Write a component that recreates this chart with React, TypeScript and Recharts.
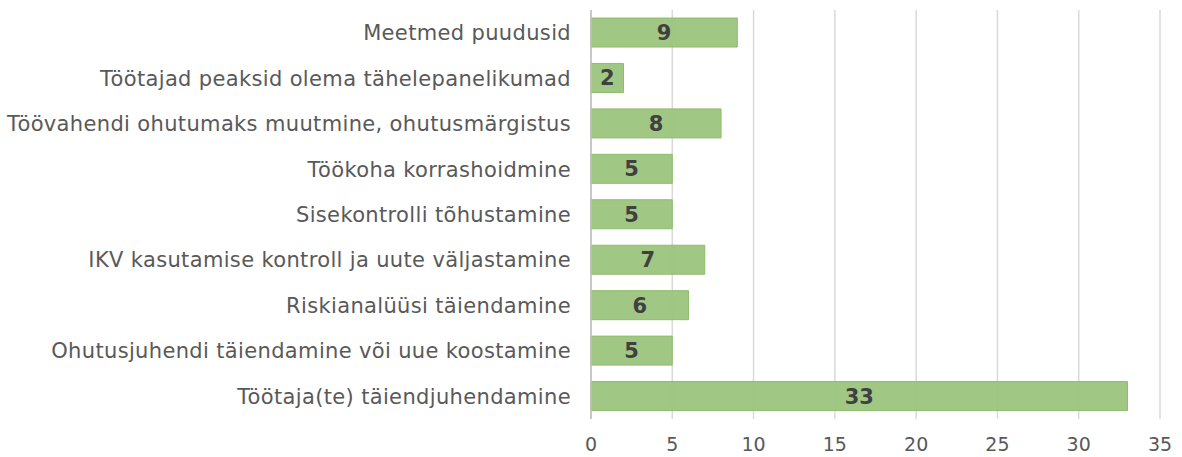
import React from 'react';
import { BarChart, Bar, XAxis, YAxis, CartesianGrid, LabelList } from 'recharts';

const categories = [
  'Meetmed puudusid',
  'Töötajad peaksid olema tähelepanelikumad',
  'Töövahendi ohutumaks muutmine, ohutusmärgistus',
  'Töökoha korrashoidmine',
  'Sisekontrolli tõhustamine',
  'IKV kasutamise kontroll ja uute väljastamine',
  'Riskianalüüsi täiendamine',
  'Ohutusjuhendi täiendamine või uue koostamine',
  'Töötaja(te) täiendjuhendamine',
];
const counts = [9, 2, 8, 5, 5, 7, 6, 5, 33];
const xTicks = [0, 5, 10, 15, 20, 25, 30, 35];

const data = categories.map((name, i) => ({ name, value: counts[i] }));

const font = '"DejaVu Sans", sans-serif';

export default function App() {
  return (
    <div style={{ position: 'absolute', left: 0, top: 0, background: '#fff' }}>
      <BarChart
        width={1182}
        height={457}
        data={data}
        layout="vertical"
        margin={{ top: 10, right: 22, left: 0, bottom: 8 }}
        barSize={29}
      >
        <CartesianGrid horizontal={false} stroke="#d9d9d9" strokeWidth={1.5} />
        <XAxis
          type="number"
          domain={[0, 35]}
          ticks={xTicks}
          axisLine={false}
          tickLine={false}
          tick={{ fontSize: 19, fill: '#595959', fontFamily: font }}
          tickMargin={13}
          height={30}
          interval={0}
        />
        <YAxis
          type="category"
          dataKey="name"
          width={591}
          axisLine={{ stroke: '#bfbfbf', strokeWidth: 1.5 }}
          tickLine={false}
          tick={{ fontSize: 21, fill: '#595959', fontFamily: font, letterSpacing: 0.35 }}
          tickMargin={14}
          interval={0}
        />
        <Bar dataKey="value" fill="#9bc47c" fillOpacity={0.95} stroke="#8fbd6c" isAnimationActive={false}>
          <LabelList
            dataKey="value"
            position="center"
            style={{ fontSize: 21, fontWeight: 'bold', fill: '#404040', fontFamily: font }}
          />
        </Bar>
      </BarChart>
    </div>
  );
}
